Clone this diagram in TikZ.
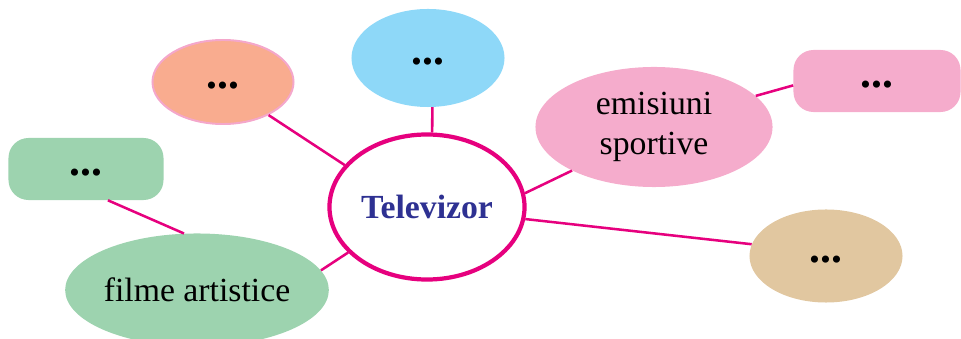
\documentclass[tikz,border=0pt]{standalone}
\usepackage{fontspec}
\setmainfont{Liberation Serif}
\usepackage{tikz}
\usetikzlibrary{shapes.geometric}
\definecolor{linkColor}{HTML}{E6007E}
\definecolor{titleColor}{HTML}{2E3192}
\definecolor{skyFill}{HTML}{8ED8F8}
\definecolor{peachFill}{HTML}{F9AC8F}
\definecolor{peachFrame}{HTML}{F4A7CB}
\definecolor{mintFill}{HTML}{9DD3AF}
\definecolor{roseFill}{HTML}{F5ACCC}
\definecolor{sandFill}{HTML}{E1C7A0}

\begin{document}
\begin{tikzpicture}[x=0.025cm, y=-0.025cm,
    bubble/.style={ellipse, inner sep=0pt, align=center,
        font=\fontsize{24}{29}\selectfont},
    tag/.style={rectangle, rounded corners=0.5cm, inner sep=0pt},
    dots/.style={font=\fontsize{31}{36}\selectfont\bfseries,
        text height=0.34cm, text depth=0pt},
    link/.style={linkColor, line width=1.8pt}]
    \useasboundingbox (0,0) rectangle (961,339);

    \node[bubble, draw=linkColor, line width=3pt, fill=white,
        minimum width=4.875cm, minimum height=3.625cm, text=titleColor,
        font=\fontsize{24}{29}\selectfont\bfseries] (tv) at (427,207) {Televizor};

    \node[bubble, dots, fill=skyFill, minimum width=3.825cm, minimum height=2.45cm]
        (sky) at (428,58) {...};
    \node[bubble, dots, fill=peachFill, draw=peachFrame, line width=1.4pt,
        minimum width=3.525cm, minimum height=2.1cm] (peach) at (223,82) {...};
    \node[tag, dots, fill=mintFill, minimum width=3.875cm, minimum height=1.55cm]
        (mint) at (86,169) {...};
    \node[tag, dots, fill=roseFill, minimum width=4.175cm, minimum height=1.55cm]
        (rose) at (877,81) {...};
    \node[bubble, dots, fill=sandFill, minimum width=3.825cm, minimum height=2.325cm]
        (sand) at (826,256) {...};

    \node[bubble, fill=roseFill, minimum width=5.925cm, minimum height=3cm]
        (sport) at (654,127) {emisiuni\\sportive};
    \node[bubble, fill=mintFill, minimum width=6.5cm, minimum height=2.825cm]
        (film) at (197,290) {filme artistice};

    % connectors
    \draw[link] (tv.86) -- (sky.-85);
    \draw[link] (tv.153) -- (peach.-36);
    \draw[link] (tv.210) -- (film.9);
    \draw[link] (mint.-55) -- (film.103);
    \draw[link] (tv.8) -- (sport.208);
    \draw[link] (sport.17) -- (rose.183);
    \draw[link] (tv.-7) -- (sand.171);
\end{tikzpicture}
\end{document}
